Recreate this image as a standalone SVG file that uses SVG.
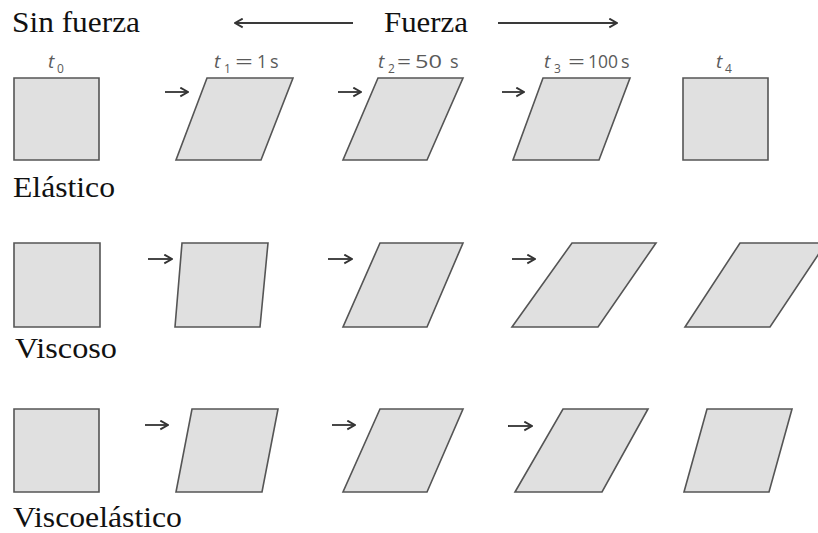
<svg xmlns="http://www.w3.org/2000/svg" width="818" height="533" viewBox="0 0 818 533">
<defs>
<marker id="ah" viewBox="0 0 10 10" refX="9" refY="5" markerWidth="11" markerHeight="11" markerUnits="userSpaceOnUse" orient="auto-start-reverse">
<path d="M2,1 L9,5 L2,9" fill="none" stroke="#333" stroke-width="1.7"/>
</marker>
<style>
.t{font-family:"Liberation Serif","Times New Roman",serif;font-size:30px;fill:#111}
.lb{font-family:"Open Sans","DejaVu Sans",sans-serif;font-size:18px;fill:#5a5a5a}
.it{font-style:italic;font-size:19px}
.sb{font-size:12px}
.sh{fill:#e0e0e0;stroke:#555;stroke-width:1.6;stroke-linejoin:miter}
.ar{stroke:#333;stroke-width:1.8;fill:none;marker-end:url(#ah)}
.big{stroke:#3a3a3a;stroke-width:1.8;fill:none}
</style>
</defs>
<rect width="818" height="533" fill="#fff"/>

<g id="header">
<text class="t" x="12" y="32" textLength="128" lengthAdjust="spacingAndGlyphs">Sin fuerza</text>
<text class="t" x="384" y="32" textLength="84" lengthAdjust="spacingAndGlyphs">Fuerza</text>
</g>

<g id="time-labels">
<text class="lb"><tspan class="it" x="48" y="68">t</tspan><tspan class="sb" x="57" y="73">0</tspan></text>
<text class="lb"><tspan class="it" x="214" y="68">t</tspan><tspan class="sb" x="224" y="73">1</tspan><tspan x="235" y="68" textLength="18" lengthAdjust="spacingAndGlyphs">=</tspan><tspan x="257" y="68" textLength="10" lengthAdjust="spacingAndGlyphs">1</tspan><tspan x="270" y="68">s</tspan></text>
<text class="lb"><tspan class="it" x="378" y="68">t</tspan><tspan class="sb" x="388" y="73">2</tspan><tspan x="397" y="68" textLength="14" lengthAdjust="spacingAndGlyphs">=</tspan><tspan x="415" y="68" textLength="27" lengthAdjust="spacingAndGlyphs">50</tspan><tspan x="450" y="68">s</tspan></text>
<text class="lb"><tspan class="it" x="544" y="68">t</tspan><tspan class="sb" x="554" y="73">3</tspan><tspan x="568" y="68" textLength="17" lengthAdjust="spacingAndGlyphs">=</tspan><tspan x="588" y="68" textLength="30" lengthAdjust="spacingAndGlyphs">100</tspan><tspan x="621" y="68">s</tspan></text>
<text class="lb"><tspan class="it" x="716" y="68">t</tspan><tspan class="sb" x="725" y="73">4</tspan></text>
</g>

<g id="row-elastico">
<polygon class="sh" points="14,78 99,78 99,160 14,160"/>
<polygon class="sh" points="207,78 293,78 261,160 176,160"/>
<polygon class="sh" points="378,78 463,78 427,160 343,160"/>
<polygon class="sh" points="543,78 630,78 599,160 513,160"/>
<polygon class="sh" points="683,78 768,78 768,160 683,160"/>
<text class="t" x="13" y="197" textLength="102" lengthAdjust="spacingAndGlyphs">Elástico</text>
</g>

<g id="row-viscoso">
<polygon class="sh" points="14,243 100,243 100,327 14,327"/>
<polygon class="sh" points="182,243 268,243 260,327 175,327"/>
<polygon class="sh" points="380,243 463,243 427,327 343,327"/>
<polygon class="sh" points="572,243 656,243 598,327 512,327"/>
<polygon class="sh" points="740,243 826,243 770,327 685,327"/>
<text class="t" x="15" y="358" textLength="102" lengthAdjust="spacingAndGlyphs">Viscoso</text>
</g>

<g id="row-viscoelastico">
<polygon class="sh" points="14,409 99,409 99,492 14,492"/>
<polygon class="sh" points="192,409 278,409 262,492 176,492"/>
<polygon class="sh" points="380,409 463,409 427,492 343,492"/>
<polygon class="sh" points="563,409 648,409 602,492 515,492"/>
<polygon class="sh" points="707,409 792,409 769,492 684,492"/>
<text class="t" x="13" y="527" textLength="169" lengthAdjust="spacingAndGlyphs">Viscoelástico</text>
</g>

<g id="connectors">
<line class="big" x1="353" y1="23" x2="235" y2="23" marker-end="url(#ah)"/>
<line class="big" x1="498" y1="23" x2="617" y2="23" marker-end="url(#ah)"/>
<line class="ar" x1="165" y1="92" x2="188" y2="92"/>
<line class="ar" x1="338" y1="92" x2="361" y2="92"/>
<line class="ar" x1="502" y1="92" x2="524" y2="92"/>
<line class="ar" x1="148" y1="259" x2="172" y2="259"/>
<line class="ar" x1="328" y1="259" x2="352" y2="259"/>
<line class="ar" x1="512" y1="259" x2="535" y2="259"/>
<line class="ar" x1="145" y1="425" x2="168" y2="425"/>
<line class="ar" x1="332" y1="425" x2="355" y2="425"/>
<line class="ar" x1="508" y1="426" x2="532" y2="426"/>
</g>
</svg>
